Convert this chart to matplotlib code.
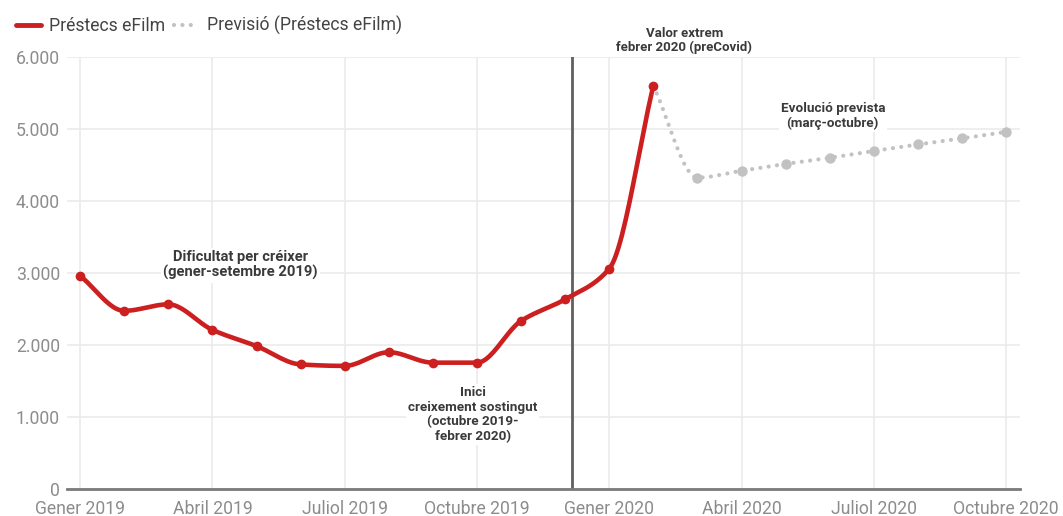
import matplotlib.pyplot as plt
import numpy as np
from matplotlib.lines import Line2D

plt.rcParams['font.family'] = ['Roboto', 'DejaVu Sans']

# month index: 0 = Gener 2019 ... 21 = Octubre 2020
loan_months = list(range(0, 14))
loan_values = [2960, 2475, 2565, 2210, 1985, 1730, 1710, 1900, 1755, 1755, 2335, 2635, 3060, 5600]

forecast_months = list(range(13, 22))
forecast_values = [5600, 4325, 4420, 4515, 4600, 4695, 4785, 4870, 4960]

tick_months = [0, 3, 6, 9, 12, 15, 18, 21]
tick_labels = ['Gener 2019', 'Abril 2019', 'Juliol 2019', 'Octubre 2019',
               'Gener 2020', 'Abril 2020', 'Juliol 2020', 'Octubre 2020']
y_ticks = [0, 1000, 2000, 3000, 4000, 5000, 6000]
y_labels = ['0', '1.000', '2.000', '3.000', '4.000', '5.000', '6.000']

covid_mark = 11.16  # separator line between Dec 2019 and Jan 2020

notes = [
    (3.63, 3110, 'Dificultat per créixer\n(gener-setembre 2019)', 10.6),
    (8.9, 1030, 'Inici\ncreixement sostingut\n(octubre 2019-\nfebrer 2020)', 9.7),
    (17.07, 5180, 'Evolució prevista\n(març-octubre)', 9.7),
    (13.7, 6230, 'Valor extrem\nfebrer 2020 (preCovid)', 9.5),
]

RED = '#cc1f1f'
GREY = '#c2c2c2'
DOTS = (0, (0.01, 2.0))


def smooth(x, y, n=24):
    """Monotone cubic curve through the points (for drawing only)."""
    x = np.asarray(x, float)
    y = np.asarray(y, float)
    h = np.diff(x)
    d = np.diff(y) / h
    m = np.zeros_like(y)
    m[0], m[-1] = d[0], d[-1]
    for i in range(1, len(y) - 1):
        if d[i - 1] * d[i] <= 0:
            m[i] = 0
        else:
            m[i] = 2 / (1 / d[i - 1] + 1 / d[i])
    xs, ys = [], []
    for i in range(len(x) - 1):
        t = np.linspace(0, 1, n, endpoint=False)
        h00 = 2 * t**3 - 3 * t**2 + 1
        h10 = t**3 - 2 * t**2 + t
        h01 = -2 * t**3 + 3 * t**2
        h11 = t**3 - t**2
        xs.extend(x[i] + t * h[i])
        ys.extend(h00 * y[i] + h10 * h[i] * m[i] + h01 * y[i + 1] + h11 * h[i] * m[i + 1])
    xs.append(x[-1])
    ys.append(y[-1])
    return np.array(xs), np.array(ys)


fig = plt.figure(figsize=(10.63, 5.16), dpi=100)
ax = fig.add_axes([0.063, 0.0523, 0.8967, 0.8372])

# forecast (grey dotted)
fx, fy = smooth(forecast_months, forecast_values)
ax.plot(fx, fy, color=GREY, lw=3, linestyle=DOTS, dash_capstyle='round', zorder=3)
ax.plot(forecast_months[1:], forecast_values[1:], 'o', color=GREY, ms=7.5,
        mec='none', zorder=4)

# actual loans (red)
lx, ly = smooth(loan_months, loan_values)
ax.plot(lx, ly, color=RED, lw=3.3, solid_capstyle='round', zorder=5)
ax.plot(loan_months, loan_values, 'o', color=RED, ms=7, mec='none', zorder=6)

ax.axvline(covid_mark, color='#5f5f5f', lw=2, zorder=2)

ax.set_xlim(-0.3, 21.32)
ax.set_ylim(0, 6000)
ax.set_xticks(tick_months)
ax.set_xticklabels(tick_labels)
ax.set_yticks(y_ticks)
ax.set_yticklabels(y_labels)
ax.grid(True, color='#ebebeb', lw=1.2, zorder=0)
ax.set_axisbelow(True)
ax.tick_params(length=0, labelsize=12.7, labelcolor='#8c8c8c')
ax.tick_params(axis='x', pad=8)
ax.tick_params(axis='y', pad=5)
for side in ('left', 'top', 'right'):
    ax.spines[side].set_visible(False)
ax.spines['bottom'].set_color('#7a7a7a')
ax.spines['bottom'].set_linewidth(2)
ax.spines['bottom'].set_zorder(2)

for x, y, txt, size in notes:
    ax.text(x, y, txt, ha='center', va='center', fontsize=size, fontweight='bold',
            color='#3a3a3a', linespacing=1.15, clip_on=False, zorder=7,
            bbox=dict(facecolor='white', edgecolor='none', pad=1.5))

handles = [
    Line2D([], [], color=RED, lw=3.5, solid_capstyle='round'),
    Line2D([], [], color=GREY, lw=3, linestyle=DOTS, dash_capstyle='round'),
]
fig.legend(handles, ['Préstecs eFilm', 'Previsió (Préstecs eFilm)'],
           loc='upper left', bbox_to_anchor=(0.0005, 1.0), ncol=2, frameon=False,
           fontsize=12.7, labelcolor='#444444', handlelength=1.4,
           handletextpad=0.45, columnspacing=0.5)

fig.savefig('out.png', dpi=100)
